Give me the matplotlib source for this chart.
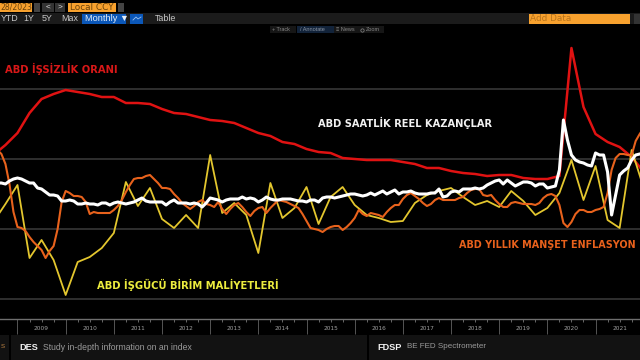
import numpy as np
import matplotlib
matplotlib.use('Agg')
import matplotlib.pyplot as plt
from matplotlib.patches import Rectangle

# Quarterly series, from Q3 2008
unemployment = [7.4, 8.4, 9.6, 11.6, 13.0, 13.5, 13.9, 13.7, 13.5, 13.2, 13.2, 12.6, 12.6, 12.5,
                12.0, 11.6, 11.5, 11.2, 10.9, 10.8, 10.6, 10.1, 9.6, 9.3, 8.7, 8.5, 8.0, 7.7,
                7.6, 7.1, 7.0, 6.9, 6.9, 6.9, 6.7, 6.5, 6.1, 6.1, 5.8, 5.6, 5.5, 5.3, 5.4,
                5.4, 5.1, 5.0, 5.0, 5.3, 18.1, 12.2, 9.5, 8.7, 8.2, 7.2, 5.7]
unit_labor_cost = [0.7, 2.5, 4.4, -2.9, -1.1, -3.1, -6.6, -3.3, -2.8, -1.9, -0.4, 4.7, 2.3, 4.1,
                   1.0, 0.1, 1.4, 0.1, 7.4, 1.6, 2.6, 1.4, -2.4, 4.6, 1.1, 2.1, 4.2, 0.5,
                   3.2, 4.2, 2.4, 1.4, 1.1, 0.7, 0.8, 2.6, 3.4, 3.8, 4.1, 3.2, 2.4, 2.8, 2.2,
                   3.8, 2.8, 1.4, 2.1, 3.6, 6.9, 2.9, 6.3, 0.9, 0.1, 7.9, 4.1]

# Monthly series, from Aug 2008
inflation = [7.9, 7.5, 6.5, 4.5, 1.7,
             0.2, 0.1, -0.2, -0.8, -1.3, -1.7, -2.1, -2.9, -2.2, -1.7, 0.0, 2.7,
             3.8, 3.6, 3.3, 3.3, 3.2, 2.7, 1.5, 1.7, 1.6, 1.6, 1.6, 1.6,
             1.9, 2.3, 2.9, 3.7, 4.4, 5.0, 5.1, 5.1, 5.3, 5.4, 5.0, 4.6,
             4.1, 4.1, 4.0, 3.5, 3.1, 2.6, 2.3, 2.0, 2.3, 2.7, 2.9, 2.5,
             2.4, 2.2, 2.7, 2.0, 1.5, 2.0, 2.4, 2.6, 2.2, 1.7, 1.3, 1.8,
             2.1, 2.2, 1.6, 2.1, 2.5, 2.9, 2.8, 2.7, 2.5, 2.3, 2.1, 1.5,
             0.8, 0.1, 0.0, -0.1, -0.3, 0.0, 0.2, 0.3, 0.3, -0.1, 0.2, 0.6,
             1.1, 1.9, 1.5, 1.3, 1.6, 1.5, 1.4, 1.2, 1.7, 2.1, 2.4, 2.4,
             3.0, 3.4, 3.6, 3.3, 3.0, 2.6, 2.3, 2.5, 2.9, 3.1, 2.9, 2.9,
             2.9, 2.9, 3.1, 3.2, 3.6, 3.9, 4.0, 4.0, 3.4, 3.3, 3.4, 2.9,
             2.5, 2.2, 2.2, 2.6, 2.7, 2.6, 2.5, 2.5, 2.5, 2.4, 2.6, 3.1,
             3.4, 3.5, 3.3, 2.4, 0.6, 0.2, 0.7, 1.5, 1.9, 1.9, 1.7, 1.7,
             1.9, 2.0, 2.2, 3.6, 5.9, 7.1, 7.5, 7.5, 7.4, 7.4, 8.8, 9.5, 10.1]
real_earnings = [4.6, 4.6, 4.5, 4.8, 5.0,
                 5.1, 5.0, 4.8, 4.6, 4.6, 4.1, 4.0, 3.7, 3.4, 3.4, 3.3, 2.8,
                 2.8, 2.9, 2.8, 2.5, 2.5, 2.6, 2.5, 2.5, 2.4, 2.6, 2.6, 2.4,
                 2.6, 2.7, 2.6, 2.5, 2.6, 2.7, 2.9, 3.1, 2.8, 2.7, 2.7, 2.7,
                 2.7, 2.4, 2.7, 2.9, 2.6, 2.6, 2.6, 2.5, 2.6, 2.5, 2.2, 2.6,
                 3.1, 3.0, 2.9, 2.7, 2.9, 3.0, 3.0, 3.0, 3.2, 3.0, 3.1, 3.0,
                 2.7, 2.9, 3.2, 3.0, 2.9, 2.9, 3.0, 3.0, 3.0, 2.9, 2.8, 2.8,
                 2.7, 2.9, 2.9, 2.7, 3.1, 3.2, 3.2, 3.1, 3.2, 3.3, 3.4, 3.5,
                 3.5, 3.4, 3.3, 3.4, 3.6, 3.4, 3.6, 3.8, 3.5, 3.7, 3.9, 3.5,
                 3.7, 3.7, 3.8, 3.6, 3.5, 3.5, 3.5, 3.6, 3.6, 4.0, 3.2, 3.3,
                 3.7, 3.8, 3.7, 4.0, 4.0, 4.0, 4.1, 4.0, 4.1, 4.4, 4.6, 4.8,
                 4.9, 4.5, 4.9, 4.6, 4.3, 4.5, 4.7, 4.7, 4.6, 4.3, 4.5, 4.5,
                 4.1, 4.2, 4.3, 5.9, 10.9, 8.9, 7.4, 6.9, 6.7, 6.6, 6.4, 6.3,
                 7.6, 7.4, 7.4, 5.7, 1.4, 3.4, 5.4, 5.8, 6.1, 6.9, 7.4, 7.5, 7.5]

years = list(range(2009, 2022))
grid_levels = [-7, 0, 7, 14]

quarter_x = 2008.5 + np.arange(len(unemployment)) / 4
month_x = 2008 + 7 / 12 + np.arange(len(inflation)) / 12

BLACK = '#000000'
ORANGE_BOX = '#f7a12e'
ORANGE_TXT = '#b8741c'
UI_FONT = ['Liberation Sans', 'DejaVu Sans']

fig = plt.figure(figsize=(6.4, 3.6), dpi=100, facecolor=BLACK)

# Terminal window around the chart, laid out in screen pixels
ui = fig.add_axes([0, 0, 1, 1], zorder=0)
ui.set_xlim(0, 640)
ui.set_ylim(360, 0)
ui.axis('off')


def box(x, y, w, h, color):
    ui.add_patch(Rectangle((x, y), w, h, facecolor=color, edgecolor='none'))


def label(x, y, s, color='#c8c8c8', size=6.2, family=UI_FONT, **kw):
    ui.text(x, y, s, color=color, fontsize=size, va='center', family=family, **kw)


box(0, 3, 32, 9, ORANGE_BOX)
label(0.5, 7.5, '28/2023', color='#6b430a', size=5.6, family='DejaVu Sans')
box(34, 3, 6, 9, '#444444')
box(42, 3, 12, 9, '#333333')
label(46, 7.5, '<', color='#dddddd', size=6)
box(55, 3, 10, 9, '#333333')
label(57.5, 7.5, '>', color='#dddddd', size=6)
box(68, 3, 48, 9, ORANGE_BOX)
label(69.5, 7.5, 'Local CCY', color='#6b430a', size=6.4, family='DejaVu Sans')
box(118, 3, 6, 9, '#444444')

box(0, 13, 640, 11, '#1b1b1b')
for x, s in [(0.5, 'YTD'), (23, '1Y'), (42, '5Y'), (61, 'Max')]:
    label(x, 18.5, s, size=6.4)
box(82, 14, 44, 10, '#0b57b8')
label(85, 18.5, 'Monthly ▼', color='#e4ecf6', size=6.6)
box(130, 14, 13, 10, '#0b57b8')
ui.plot([133, 136, 138, 141], [20, 17, 19, 17], color='#9cc0ee', lw=0.6)
label(155, 18.5, 'Table', size=6.4)
box(529, 14, 101, 9.5, ORANGE_BOX)
label(530, 18.5, 'Add Data', color=ORANGE_TXT, size=6.4, family='DejaVu Sans')
box(634, 14, 6, 10, '#333333')

box(270, 26, 26, 7, '#161616')
label(272, 29.5, '+ Track', color='#888888', size=4)
box(297, 26, 37, 7, '#12233a')
label(300, 29.5, '/ Annotate', color='#8b95a3', size=4)
box(334, 26, 24, 7, '#161616')
label(336, 29.5, '≡ News', color='#888888', size=4)
box(358, 26, 26, 7, '#161616')
# magnifier icon, no installed font has the glyph
ui.plot([362], [29.5], marker='o', ms=2.4, mfc='none', mec='#888888', mew=0.5)
label(366, 29.5, 'Zoom', color='#888888', size=4)

box(0, 335, 9, 25, '#121212')
box(11, 335, 356, 25, '#121212')
box(369, 335, 271, 25, '#121212')
label(1, 347, 's', color='#a0703a', size=6)
label(19, 347, 'DES', color='#f0f0f0', size=6.6, fontweight='bold')
label(43, 347, 'Study in-depth information on an index', color='#9a9a9a', size=6.2)
label(377, 347, 'FDSP', color='#f0f0f0', size=6.6, fontweight='bold')
label(407, 347, 'BE FED Spectrometer', color='#9a9a9a', size=5.8)

# Chart
ax = fig.add_axes([0, 1 - 319 / 360, 1, (319 - 37) / 360], zorder=1)
ax.patch.set_alpha(0)
ax.set_xlim(2008.637, 2021.923)
ax.set_ylim(-9, 19.2)
for side in ['top', 'left', 'right']:
    ax.spines[side].set_visible(False)
ax.spines['bottom'].set_color('#6e6e6e')
ax.spines['bottom'].set_linewidth(1.0)

ax.set_yticks(grid_levels)
ax.tick_params(axis='y', length=0, labelleft=False)
ax.grid(axis='y', color='#3c3c3c', linewidth=1.1)
ax.set_axisbelow(True)

ax.set_xticks(years)
ax.set_xticks([y + q / 4 for y in years for q in (1, 2, 3)], minor=True)
ax.tick_params(axis='x', which='major', length=11, width=0.7, color='#555555', labelbottom=False)
ax.tick_params(axis='x', which='minor', length=2, width=0.6, color='#777777')
for y in years:
    ax.annotate(str(y), (y + 0.5, 0), xycoords=ax.get_xaxis_transform(), xytext=(0, -7),
                textcoords='offset points', ha='center', va='center', color='#a0a0a0',
                fontsize=4.2, annotation_clip=False)

ax.plot(quarter_x, unemployment, color='#e01212', lw=1.8, solid_joinstyle='round')
ax.plot(quarter_x, unit_labor_cost, color='#e3c62e', lw=1.3, solid_joinstyle='round')
ax.plot(month_x, inflation, color='#e8621c', lw=1.5, solid_joinstyle='round')
ax.plot(month_x, real_earnings, color='#ffffff', lw=2.2, solid_joinstyle='round')

label(5, 69, 'ABD İŞSİZLİK ORANI', color='#d81818', size=7.2, fontweight='bold', family='DejaVu Sans')
label(318, 123, 'ABD SAATLİK REEL KAZANÇLAR', color='#f2f2f2', size=7.1, fontweight='bold', family='DejaVu Sans')
label(97, 285, 'ABD İŞGÜCÜ BİRİM MALİYETLERİ', color='#ecec3e', size=7.2, fontweight='bold', family='DejaVu Sans')
label(459, 245, 'ABD YILLIK MANŞET ENFLASYON', color='#e8611c', size=6.95, fontweight='bold', family='DejaVu Sans')

fig.savefig('out.png', dpi=100, facecolor=BLACK)
